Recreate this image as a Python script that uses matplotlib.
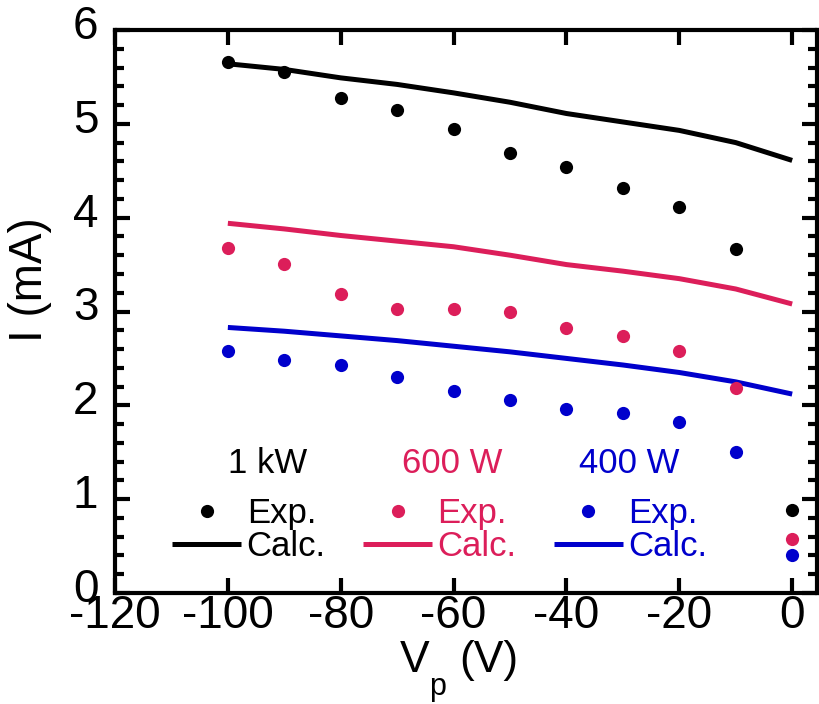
import matplotlib
matplotlib.use("Agg")
import matplotlib.pyplot as plt
from matplotlib import font_manager
from matplotlib.lines import Line2D
from matplotlib.ticker import MultipleLocator
import matplotlib.transforms as mtransforms

# ---- data ----
vp = [-100, -90, -80, -70, -60, -50, -40, -30, -20, -10, 0]
exp_1kw = [5.66, 5.55, 5.27, 5.15, 4.95, 4.69, 4.54, 4.32, 4.11, 3.67, 0.88]
calc_1kw = [5.64, 5.58, 5.49, 5.42, 5.33, 5.23, 5.11, 5.02, 4.93, 4.80, 4.61]
exp_600w = [3.68, 3.51, 3.19, 3.03, 3.03, 2.99, 2.82, 2.74, 2.58, 2.18, 0.58]
calc_600w = [3.94, 3.88, 3.81, 3.75, 3.69, 3.60, 3.50, 3.43, 3.35, 3.24, 3.08]
exp_400w = [2.58, 2.48, 2.43, 2.30, 2.15, 2.06, 1.96, 1.92, 1.82, 1.50, 0.41]
calc_400w = [2.83, 2.79, 2.74, 2.69, 2.63, 2.57, 2.50, 2.43, 2.35, 2.25, 2.12]
x_ticks = [-120, -100, -80, -60, -40, -20, 0]
y_ticks = [0, 1, 2, 3, 4, 5, 6]
powers = ["1 kW", "600 W", "400 W"]

BLACK = "#000000"
PINK = "#DC1E5A"
BLUE = "#0000CC"

names = {f.name for f in font_manager.fontManager.ttflist}
MAIN = "Liberation Sans" if "Liberation Sans" in names else "DejaVu Sans"
NARROW = "Liberation Sans Narrow" if "Liberation Sans Narrow" in names else MAIN
plt.rcParams["font.family"] = [MAIN, "DejaVu Sans"]

W, H = 819, 704
fig = plt.figure(figsize=(W / 100, H / 100), dpi=100)
ax = fig.add_axes([115 / W, 1 - 593 / H, (817 - 115) / W, (593 - 30) / H])

lw = 3.6
ms = 9.5
for e, c, col in [(exp_1kw, calc_1kw, BLACK), (exp_600w, calc_600w, PINK), (exp_400w, calc_400w, BLUE)]:
    ax.plot(vp, c, color=col, lw=lw, solid_capstyle="butt", zorder=2)
    ax.plot(vp, e, "o", color=col, ms=ms, mec="none", zorder=3)

ax.set_xlim(-120, 4.4)
ax.set_ylim(0, 6)
ax.set_xticks(x_ticks)
ax.set_xticklabels([str(t) for t in x_ticks], fontfamily=NARROW, fontsize=33)
ax.set_yticks(y_ticks)
ax.set_yticklabels([str(t) for t in y_ticks], fontsize=33)
ax.yaxis.set_minor_locator(MultipleLocator(0.2))

for s in ax.spines.values():
    s.set_linewidth(3.0)
ax.tick_params(axis="both", which="major", direction="in", length=11, width=3.0,
               top=True, right=True)
ax.tick_params(axis="y", which="minor", direction="in", length=6.5, width=3.0, right=True, left=True)
ax.tick_params(axis="x", pad=1)
ax.tick_params(axis="y", pad=12)

off = mtransforms.ScaledTranslation(0, 8 / 100, fig.dpi_scale_trans)
for lab in ax.get_yticklabels():
    lab.set_transform(lab.get_transform() + off)

# axis labels
fig.text(30 / W, 1 - 280 / H, "I (mA)", rotation=90, ha="center", va="center", fontsize=33)
fig.text(415 / W, 1 - 672 / H, "V", ha="center", va="baseline", fontsize=32)
fig.text(438 / W, 1 - 695 / H, "p", ha="center", va="baseline", fontsize=22)
fig.text(489 / W, 1 - 672 / H, "(V)", ha="center", va="baseline", fontsize=32)

# legend
cols = [BLACK, PINK, BLUE]
handles = []
labels = []
for col in cols:
    handles.append(Line2D([], [], ls="none", marker="o", color=col, ms=ms, mec="none"))
    labels.append("Exp.")
    handles.append(Line2D([], [], ls="-", color=col, lw=lw, solid_capstyle="butt"))
    labels.append("Calc.")
leg = ax.legend(handles, labels, ncol=3, frameon=False, fontsize=25,
                loc="upper left", bbox_to_anchor=((172 - 115) / 702, (593 - 497) / 563),
                borderpad=0, borderaxespad=0, handlelength=2.0, handletextpad=0.15,
                columnspacing=1.07, labelspacing=0.0)
for t, col in zip(leg.get_texts(), [BLACK, BLACK, PINK, PINK, BLUE, BLUE]):
    t.set_color(col)

for name, cx, col in zip(powers, [268, 452, 629], cols):
    ax.text((cx - 115) / 702, (593 - 473) / 563, name, color=col, fontsize=25,
            ha="center", va="baseline", transform=ax.transAxes)

fig.savefig("out.png", dpi=100)
